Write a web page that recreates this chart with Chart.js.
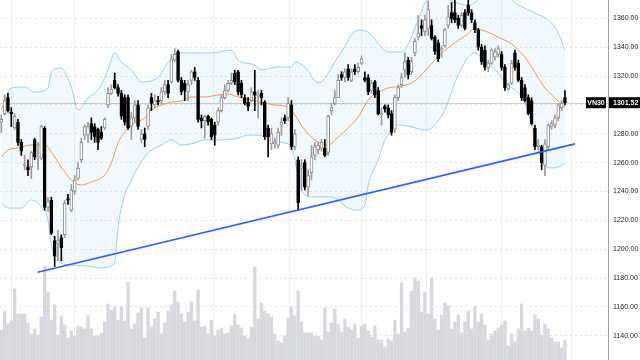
<!DOCTYPE html>
<html>
<head>
<meta charset="utf-8">
<script src="https://cdn.jsdelivr.net/npm/chart.js@4.4.1/dist/chart.umd.min.js"></script>
<style>
  html, body { margin: 0; padding: 0; background: #fff; }
  #wrap { width: 640px; height: 360px; }
</style>
</head>
<body>
<div id="wrap"><canvas id="chart"></canvas></div>
<script>
const symbol = 'VN30';

// daily candles, oldest first: [open, high, low, close]
const candles = [
  [1288,1293,1281,1290],[1294,1307,1293,1303],[1305,1308,1295,1296],[1295,1298,1285,1294],[1284,1294,1283,1292],
  [1288,1290,1272,1274],[1274,1276,1265,1268],[1258,1265,1255,1259],[1257,1262,1251,1255],[1257,1268,1249,1267],
  [1276,1277,1262,1264],[1263,1274,1255,1264],[1263,1286,1262,1285],[1284,1285,1227,1229],[1229,1236,1226,1233],
  [1234,1236,1210,1211],[1206,1209,1188,1195],[1204,1213,1192,1206],[1208,1210,1192,1201],[1210,1234,1208,1232],
  [1235,1238,1231,1234],[1227,1245,1226,1241],[1240,1251,1238,1248],[1249,1260,1248,1256],[1262,1277,1260,1274],
  [1279,1286,1276,1285],[1279,1288,1274,1285],[1287,1291,1276,1281],[1285,1287,1274,1278],[1283,1284,1269,1274],
  [1281,1285,1276,1277],[1284,1291,1283,1290],[1300,1312,1298,1308],[1308,1314,1307,1311],[1317,1322,1311,1312],
  [1312,1314,1306,1308],[1308,1310,1290,1292],[1305,1307,1286,1288],[1305,1307,1283,1284],[1285,1295,1276,1291],
  [1291,1303,1288,1300],[1300,1303,1283,1285],[1276,1283,1274,1280],[1280,1284,1271,1276],[1285,1300,1283,1298],
  [1305,1308,1296,1301],[1300,1307,1298,1303],[1303,1306,1300,1302],[1303,1312,1301,1309],[1309,1317,1307,1314],
  [1314,1317,1305,1308],[1316,1335,1315,1332],[1331,1339,1330,1335],[1337,1338,1316,1317],[1317,1319,1307,1309],
  [1315,1317,1303,1310],[1309,1317,1303,1314],[1317,1324,1314,1323],[1323,1326,1317,1319],[1317,1319,1288,1290],
  [1291,1293,1284,1289],[1289,1293,1277,1292],[1292,1293,1286,1288],[1290,1291,1276,1278],[1286,1288,1272,1279],
  [1288,1298,1286,1296],[1296,1307,1295,1305],[1305,1314,1304,1310],[1310,1317,1309,1315],[1315,1322,1314,1317],
  [1322,1324,1314,1316],[1323,1324,1307,1309],[1315,1317,1305,1307],[1305,1307,1300,1301],[1302,1305,1296,1299],
  [1303,1312,1302,1309],[1309,1324,1296,1307],[1306,1310,1291,1307],[1308,1310,1300,1305],[1302,1303,1276,1278],
  [1284,1286,1264,1278],[1273,1284,1269,1280],[1273,1277,1270,1274],[1272,1284,1270,1281],[1286,1291,1279,1288],
  [1291,1293,1287,1289],[1291,1305,1289,1301],[1300,1303,1269,1271],[1271,1283,1269,1280],[1262,1264,1227,1232],
  [1256,1262,1241,1258],[1260,1262,1241,1243],[1243,1255,1237,1251],[1253,1272,1248,1264],[1265,1274,1262,1271],
  [1269,1274,1266,1272],[1270,1276,1268,1274],[1270,1276,1264,1265],[1267,1293,1265,1292],[1296,1301,1293,1298],
  [1301,1310,1300,1305],[1305,1321,1305,1317],[1321,1323,1317,1319],[1319,1325,1316,1323],[1325,1328,1317,1319],
  [1317,1325,1316,1323],[1325,1328,1321,1323],[1323,1329,1322,1326],[1329,1334,1328,1332],[1319,1323,1316,1317],
  [1319,1321,1307,1309],[1310,1317,1308,1315],[1316,1317,1305,1307],[1310,1312,1293,1294],[1293,1298,1286,1294],
  [1299,1300,1295,1297],[1298,1300,1291,1293],[1294,1296,1279,1281],[1283,1307,1281,1305],[1305,1314,1303,1312],
  [1314,1322,1312,1319],[1324,1336,1319,1330],[1331,1333,1318,1321],[1323,1333,1321,1330],[1336,1346,1334,1344],
  [1347,1362,1345,1350],[1355,1359,1348,1353],[1351,1362,1348,1359],[1353,1372,1348,1366],[1355,1359,1345,1346],
  [1347,1348,1335,1337],[1343,1345,1330,1332],[1338,1341,1333,1339],[1341,1353,1340,1352],[1355,1369,1353,1361],
  [1364,1371,1357,1360],[1364,1373,1357,1359],[1360,1362,1353,1355],[1355,1364,1354,1362],[1364,1366,1352,1353],
  [1369,1373,1362,1364],[1364,1366,1357,1359],[1357,1359,1350,1352],[1352,1353,1338,1340],[1340,1342,1328,1330],
  [1338,1341,1324,1326],[1326,1331,1323,1329],[1329,1339,1328,1338],[1333,1339,1331,1337],[1335,1341,1333,1339],
  [1335,1337,1324,1326],[1326,1328,1310,1312],[1311,1315,1310,1314],[1315,1331,1314,1329],[1336,1338,1324,1326],
  [1329,1331,1316,1317],[1317,1319,1303,1305],[1312,1314,1302,1303],[1305,1307,1293,1294],[1303,1305,1286,1287],
  [1284,1286,1269,1271],[1271,1276,1269,1272],[1271,1272,1255,1260],[1258,1276,1251,1273],[1271,1287,1269,1286],
  [1285,1289,1283,1287],[1286,1293,1284,1291],[1291,1301,1289,1300],[1298,1303,1296,1301],[1305,1310,1300,1301.52]
];

const volumes = [
  30,49,36,39,71,46,46,46,37,26,31,25,43,94,68,40,55,25,44,35,22,29,24,34,33,31,45,31,24,24,27,38,56,50,53,40,53,39,78,31,36,47,52,22,52,33,41,48,
  26,37,49,55,69,58,46,38,48,58,39,70,33,34,26,40,24,30,32,26,27,34,46,35,32,24,21,33,93,41,57,49,46,43,26,19,17,24,42,53,44,69,38,27,27,27,24,24,
  20,52,28,37,51,36,28,41,33,30,36,22,34,36,29,23,34,20,20,13,21,19,40,26,77,28,32,69,82,79,48,68,46,82,41,30,45,57,54,31,38,45,27,38,49,31,54,38,
  46,35,20,26,29,32,35,39,14,26,18,31,56,29,32,29,45,41,25,36,31,22,18,18,12,20
];

// Bollinger bands and moving average, read at candle indices
const upperIdx  = [0,3,7,10,14,15,18,19,21,23,26,29,32,34,36,39,42,47,51,53,58,63,69,71,76,78,83,87,88,91,95,101,107,110,116,120,125,127,131,136,140,145,151,155,160,165,167,169];
const upperBand = [1297,1311.7,1312.4,1308.9,1311.7,1322.8,1325.6,1322.8,1312.4,1296.5,1304.8,1310.3,1324.2,1336,1329.7,1324.2,1315.9,1319.3,1332.5,1336,1336,1336,1338,1331.1,1327.6,1324.2,1326.3,1326.3,1329.7,1326.3,1315.2,1333.2,1351.9,1350.5,1336.7,1336.7,1358.8,1370.6,1376,1371.3,1369.2,1374.8,1374.8,1369.2,1363.7,1356.8,1349.8,1338];
const lowerIdx  = [0,2,6,9,12,14,15,17,18,21,26,30,32,34,35,37,39,41,44,48,51,54,58,61,66,71,74,79,81,85,87,88,90,93,99,104,107,109,110,113,115,117,119,123,127,129,133,136,139,142,145,149,151,154,157,159,161,163,165,167,169];
const lowerBand = [1232,1228.5,1228.5,1234.1,1229.2,1220.2,1202.9,1193.9,1190.4,1189,1188.3,1186.9,1187.6,1191.1,1215.4,1237.5,1247.9,1256.9,1266.7,1272.2,1275.7,1272.2,1273.6,1275.7,1275.7,1277,1279.1,1278.4,1275.7,1273.6,1270.8,1261.8,1241,1236.2,1236.2,1228.5,1227.1,1230.6,1244.5,1261.8,1275.7,1282.6,1286.1,1284.7,1282.6,1284,1296.5,1315.2,1329.7,1336,1329.7,1322.1,1315.2,1310.3,1301.3,1286.1,1268.7,1258.3,1256.3,1256.9,1259.7];
const maIdx  = [0,2,5,9,13,16,18,21,24,27,31,33,35,37,40,43,45,48,51,54,57,61,65,68,71,75,79,82,86,88,91,94,98,101,104,107,110,113,116,120,123,125,130,135,139,142,145,149,153,155,157,159,163,166,169];
const maLine = [1263.9,1268.7,1270.1,1272.2,1272.2,1263.9,1256.9,1247.9,1244.5,1246.6,1251.4,1259.7,1273.6,1281.2,1287.4,1290.9,1296.5,1299.9,1302,1302.7,1305.5,1305.5,1306.9,1307.5,1305.5,1303.4,1301.3,1299.9,1298.5,1293,1282.6,1275.7,1272.2,1277.7,1284,1291.6,1303.4,1308.9,1311.7,1313.1,1315.2,1318.6,1331.1,1341.5,1347.7,1352.6,1351.2,1347,1342.2,1338,1333.2,1326.3,1311.7,1304.8,1298.5];

// support trendline drawn by hand on the chart
const trendIdx = [10.9, 172];
const trendVals = [1184, 1273];

const priceTicks = [1140, 1160, 1180, 1200, 1220, 1240, 1260, 1280, 1300, 1320, 1340, 1360];
const monthStarts = [3, 22, 63.5, 86.5, 108, 127.5, 150, 171];

const lastClose = candles[candles.length - 1][3];
const pts = (xs, ys) => xs.map((x, i) => ({ x: x, y: ys[i] }));
const isUp = c => c[3] >= c[0];

const lastPriceTag = {
  id: 'lastPriceTag',
  beforeDatasetsDraw(chart) {
    const { ctx, chartArea, scales } = chart;
    const y = Math.round(scales.y.getPixelForValue(lastClose)) + 0.5;
    ctx.save();
    ctx.strokeStyle = '#cfcfcf';
    ctx.lineWidth = 1;
    ctx.beginPath();
    ctx.moveTo(chartArea.left, y);
    ctx.lineTo(chartArea.right, y);
    ctx.stroke();
    ctx.restore();
  },
  afterDraw(chart) {
    const { ctx, chartArea, scales } = chart;
    const y = scales.y.getPixelForValue(lastClose);
    ctx.save();
    ctx.fillStyle = '#000';
    ctx.fillRect(chartArea.right + 1, y - 5.5, chart.width - chartArea.right - 1, 11);
    ctx.fillRect(chartArea.right - 22, y - 5.5, 20, 11);
    ctx.fillStyle = '#fff';
    ctx.font = 'bold 7px "Liberation Sans", Arial, sans-serif';
    ctx.textBaseline = 'middle';
    ctx.textAlign = 'left';
    ctx.fillText(lastClose.toFixed(2), chartArea.right + 5, y + 0.5);
    ctx.textAlign = 'center';
    ctx.fillText(symbol, chartArea.right - 12, y + 0.5);
    ctx.restore();
  }
};

new Chart(document.getElementById('chart'), {
  type: 'bar',
  data: {
    datasets: [
      {
        type: 'bar',
        data: volumes.map((v, i) => ({ x: i, y: v })),
        yAxisID: 'yVol',
        backgroundColor: '#d6d8dd',
        barThickness: 2.7,
        grouped: false,
        order: 10
      },
      {
        type: 'line',
        data: pts(upperIdx, upperBand),
        borderColor: 'rgba(33,150,243,0.45)',
        backgroundColor: 'rgba(33,150,243,0.06)',
        borderWidth: 1,
        pointRadius: 0,
        cubicInterpolationMode: 'monotone',
        fill: '+1',
        order: 9
      },
      {
        type: 'line',
        data: pts(lowerIdx, lowerBand),
        borderColor: 'rgba(33,150,243,0.45)',
        borderWidth: 1,
        pointRadius: 0,
        cubicInterpolationMode: 'monotone',
        fill: false,
        order: 8
      },
      {
        type: 'line',
        data: pts(maIdx, maLine),
        borderColor: '#f7953b',
        borderWidth: 1,
        pointRadius: 0,
        cubicInterpolationMode: 'monotone',
        fill: false,
        order: 7
      },
      {
        type: 'bar',
        data: candles.map((c, i) => ({ x: i, y: [c[2], c[1]] })),
        backgroundColor: candles.map(c => isUp(c) ? '#9a9a9a' : '#000'),
        barThickness: 1,
        grouped: false,
        order: 3
      },
      {
        type: 'bar',
        data: candles.map((c, i) => ({ x: i, y: [Math.min(c[0], c[3]), Math.max(c[0], c[3])] })),
        backgroundColor: candles.map(c => isUp(c) ? '#fff' : '#000'),
        borderColor: candles.map(c => isUp(c) ? '#8a8a8a' : '#000'),
        borderWidth: 1,
        borderSkipped: false,
        barThickness: 3,
        minBarLength: 1,
        grouped: false,
        order: 2
      },
      {
        type: 'line',
        data: pts(trendIdx, trendVals),
        borderColor: '#2962ff',
        borderWidth: 1.6,
        pointRadius: 0,
        fill: false,
        order: 1
      }
    ]
  },
  options: {
    responsive: true,
    maintainAspectRatio: false,
    animation: false,
    layout: { padding: 0, autoPadding: false },
    plugins: { legend: { display: false }, tooltip: { enabled: false } },
    scales: {
      x: {
        type: 'linear',
        offset: false,
        min: -0.39,
        max: 181.9,
        ticks: { display: false },
        grid: { color: '#eef0f4', drawTicks: false, offset: false },
        border: { display: false },
        afterBuildTicks: s => { s.ticks = monthStarts.map(v => ({ value: v })); },
        afterFit: s => { s.height = 0; s.paddingLeft = 0; s.paddingRight = 0; }
      },
      y: {
        type: 'linear',
        position: 'right',
        min: 1123.2,
        max: 1372.7,
        afterBuildTicks: s => { s.ticks = priceTicks.map(v => ({ value: v })); },
        afterFit: s => { s.width = 32; s.paddingTop = 0; s.paddingBottom = 0; },
        ticks: {
          callback: v => v.toFixed(2),
          font: { family: '"Liberation Sans", Arial, sans-serif', size: 7 },
          color: '#222',
          padding: 5
        },
        grid: { color: '#e2e4e9', drawTicks: false },
        border: { display: true, color: '#9aa0a6', width: 1, dash: [2, 3] }
      },
      yVol: {
        type: 'linear',
        display: false,
        min: 0,
        max: 360
      }
    }
  },
  plugins: [lastPriceTag]
});
</script>
</body>
</html>
